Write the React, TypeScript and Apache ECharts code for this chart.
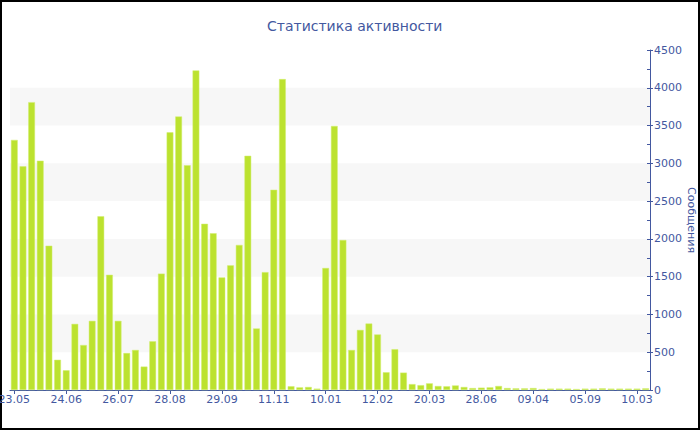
import React, { useEffect, useRef } from "react";
import * as echarts from "echarts";

const categories: string[] = [
  "23.05", "28.05", "02.06", "08.06", "13.06", "19.06",
  "24.06", "29.06", "04.07", "10.07", "15.07", "21.07",
  "26.07", "31.07", "06.08", "11.08", "17.08", "22.08",
  "28.08", "02.09", "07.09", "13.09", "18.09", "24.09",
  "29.09", "06.10", "13.10", "20.10", "27.10", "04.11",
  "11.11", "18.11", "28.11", "09.12", "19.12", "30.12",
  "10.01", "15.01", "21.01", "26.01", "01.02", "06.02",
  "12.02", "18.02", "24.02", "02.03", "08.03", "14.03",
  "20.03", "06.04", "23.04", "10.05", "27.05", "12.06",
  "28.06", "15.08", "02.10", "19.11", "06.01", "22.02",
  "09.04", "03.05", "29.05", "22.06", "17.07", "11.08",
  "05.09", "04.10", "06.11", "07.12", "07.01", "07.02",
  "10.03", "10.04",
];

const messages: number[] = [
  3310, 2960, 3810, 3035, 1910, 400,
  260, 875, 595, 915, 2300, 1525,
  915, 490, 530, 310, 645, 1540,
  3410, 3620, 2975, 4230, 2200, 2075,
  1490, 1650, 1920, 3100, 815, 1560,
  2650, 4115, 50, 35, 40, 18,
  1615, 3495, 1985, 530, 795, 880,
  735, 235, 540, 230, 78, 64,
  88, 53, 49, 60, 40, 26,
  31, 35, 53, 26, 22, 22,
  26, 13, 18, 18, 18, 13,
  18, 18, 22, 18, 18, 18,
  18, 22,
];

const title = "Статистика активности";
const yName = "Сообщения";

const BLUE = "#4358a0";

export default function App() {
  const ref = useRef<HTMLDivElement>(null);
  useEffect(() => {
    if (!ref.current) return;
    const chart = echarts.init(ref.current, undefined, { renderer: "svg" });
    chart.setOption({
      animation: false,
      textStyle: { fontFamily: "DejaVu Sans" },
      title: {
        text: title,
        left: 262,
        top: 14,
        textStyle: { color: BLUE, fontSize: 14, fontWeight: "normal", fontFamily: "DejaVu Sans" },
      },
      graphic: [
        {
          type: "rect",
          z: -10,
          shape: { x: 1, y: 1, width: 698, height: 428 },
          style: { fill: "none", stroke: "#000", lineWidth: 2 },
          silent: true,
        },
      ],
      grid: { left: 10, right: 50, top: 50, bottom: 40, containLabel: false, outerBoundsMode: "none" },
      xAxis: {
        type: "category",
        data: categories,
        boundaryGap: true,
        axisLine: { lineStyle: { color: BLUE, width: 1 } },
        axisTick: { show: true, interval: 5, alignWithLabel: true, length: 4, lineStyle: { color: BLUE } },
        axisLabel: { interval: 5, color: BLUE, fontSize: 11, margin: 4, fontFamily: "DejaVu Sans" },
        splitLine: { show: false },
      },
      yAxis: [
        {
          type: "value",
          position: "right",
          min: 0,
          max: 4500,
          interval: 500,
          name: yName,
          nameLocation: "middle",
          nameRotate: -90,
          nameGap: 36,
          nameMoveOverlap: false,
          nameTextStyle: { color: BLUE, fontSize: 11, fontFamily: "DejaVu Sans" },
          axisLine: { show: true, lineStyle: { color: BLUE, width: 1 } },
          axisTick: { show: true, inside: false, length: 3, lineStyle: { color: BLUE } },
          axisLabel: {
            color: BLUE,
            fontSize: 11,
            margin: 4,
            fontFamily: "DejaVu Sans",
            formatter: (v: number) => String(v),
          },
          splitLine: { show: false },
          splitArea: { show: true, areaStyle: { color: ["rgba(255,255,255,0)", "#f7f7f7"] } },
        },
        {
          type: "value",
          position: "right",
          min: 0,
          max: 4500,
          interval: 250,
          axisLine: { show: false },
          axisTick: { show: true, inside: true, length: 3, lineStyle: { color: BLUE } },
          axisLabel: { show: false },
          splitLine: { show: false },
          splitArea: { show: false },
        },
      ],
      series: [
        {
          type: "bar",
          data: messages,
          yAxisIndex: 0,
          barCategoryGap: "22%",
          itemStyle: { color: "#bce22f", borderColor: "#d2ee72", borderWidth: 0.5 },
        },
      ],
    });
    return () => chart.dispose();
  }, []);
  return (
    <div
      ref={ref}
      style={{ position: "absolute", left: 0, top: 0, width: 700, height: 430, background: "#fff" }}
    />
  );
}
